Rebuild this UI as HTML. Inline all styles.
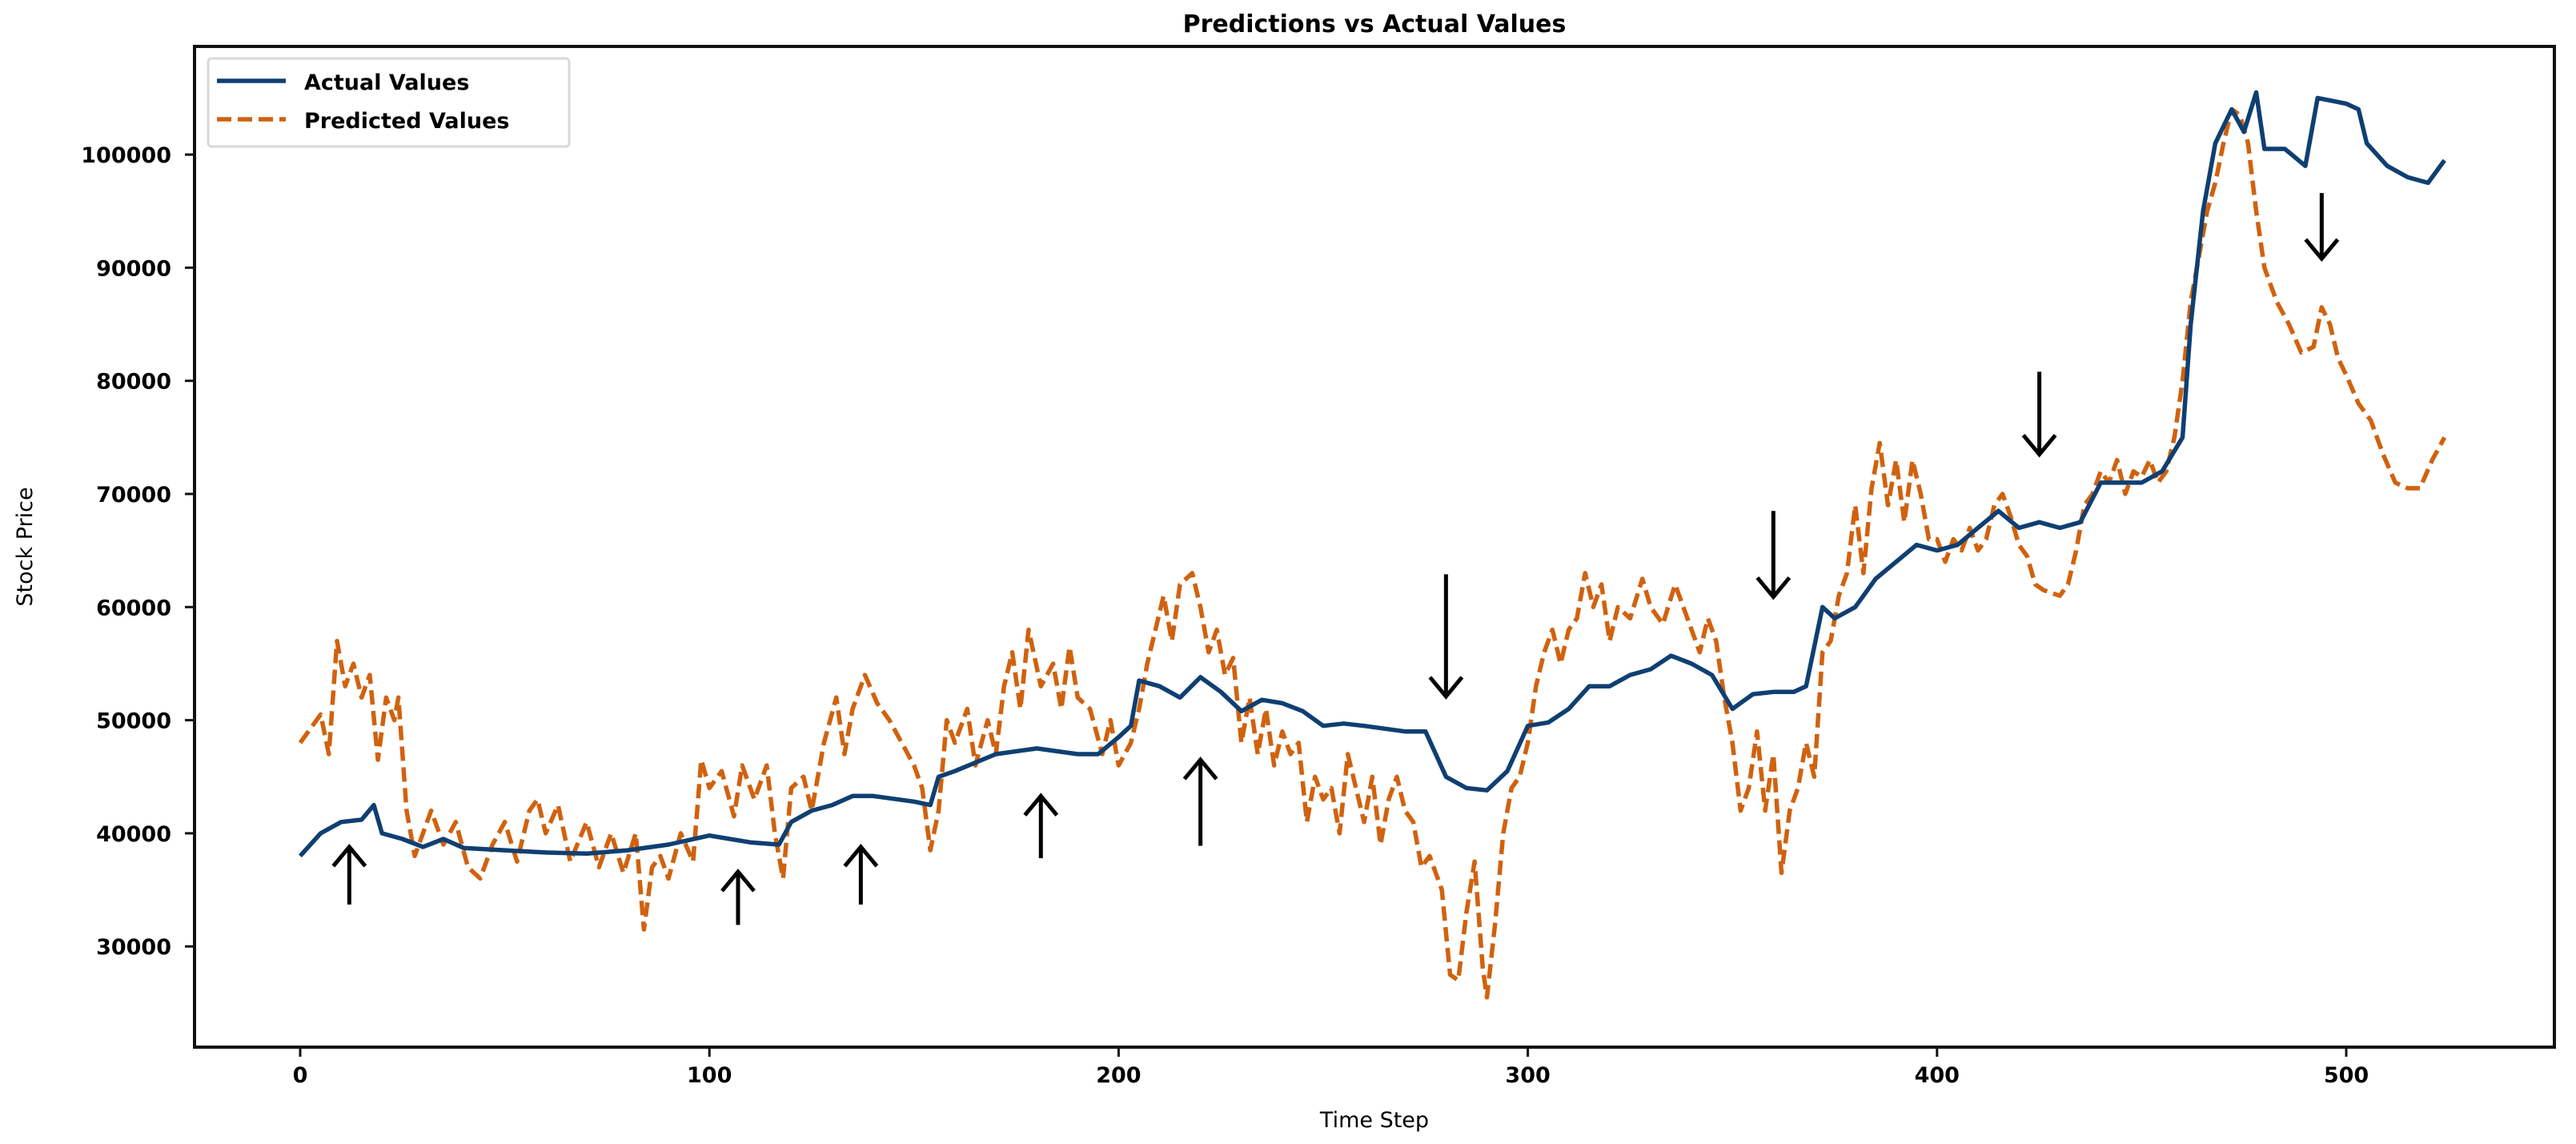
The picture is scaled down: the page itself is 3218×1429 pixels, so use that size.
<!DOCTYPE html>
<html><head><meta charset="utf-8"><style>
html,body{margin:0;padding:0;background:#fff;}
svg{display:block;font-family:"DejaVu Sans","Liberation Sans",sans-serif;}
</style></head><body>
<svg id="chart" width="3218" height="1429" viewBox="0 0 3218 1429" xmlns="http://www.w3.org/2000/svg">
<rect x="0" y="0" width="3218" height="1429" fill="#fff"/>
<text x="1717" y="40" font-size="30" font-weight="600" text-anchor="middle" fill="#000">Predictions vs Actual Values</text>
<g id="plot"></g>
<rect x="243" y="58" width="2948" height="1250" fill="none" stroke="#111" stroke-width="4"/>
<text x="1717" y="1408" font-size="27" text-anchor="middle">Time Step</text>
<text x="0" y="0" font-size="27" text-anchor="middle" transform="translate(40,683) rotate(-90)">Stock Price</text>
<g>
<rect x="260" y="73" width="451" height="110" fill="#fff" stroke="#d8d8d8" stroke-width="3" rx="4"/>
<line x1="271" y1="101" x2="357" y2="101" stroke="#0f3f72" stroke-width="5.5"/>
<text x="380" y="112" font-size="27" font-weight="600">Actual Values</text>
<line x1="271" y1="149" x2="357" y2="149" stroke="#d0620f" stroke-width="5.5" stroke-dasharray="18,8"/>
<text x="380" y="160" font-size="27" font-weight="600">Predicted Values</text>
</g>
</svg>
<script>
const actualX=[0,5,10,15,18,20,25,30,35,40,50,60,70,80,90,100,110,117,120,125,130,135,140,150,154,156,160,170,180,190,195,200,203,205,210,215,220,225,230,235,240,245,250,255,260,270,275,280,285,290,295,300,305,310,315,320,325,330,335,340,345,350,355,360,365,368,372,375,380,385,390,395,400,405,410,415,420,425,430,435,440,450,455,460,462,465,468,472,475,478,480,485,490,493,500,503,505,510,515,520,524];
const actualY=[38000,40000,41000,41200,42500,40000,39500,38800,39500,38700,38500,38300,38200,38500,39000,39800,39200,39000,41000,42000,42500,43300,43300,42800,42500,45000,45500,47000,47500,47000,47000,48500,49500,53500,53000,52000,53800,52500,50800,51800,51500,50800,49500,49700,49500,49000,49000,45000,44000,43800,45500,49500,49800,51000,53000,53000,54000,54500,55700,55000,54000,51000,52300,52500,52500,53000,60000,59000,60000,62500,64000,65500,65000,65500,67000,68500,67000,67500,67000,67500,71000,71000,72000,75000,85000,95000,101000,104000,102000,105500,100500,100500,99000,105000,104500,104000,101000,99000,98000,97500,99500];
const predX=[0,3,5,7,9,11,13,15,17,19,21,23,24,26,28,30,32,35,38,41,44,47,50,53,56,58,60,63,66,70,73,76,79,82,84,86,88,90,93,96,98,100,103,106,108,111,114,116,118,120,123,125,128,131,133,135,138,141,144,147,150,152,154,156,158,160,163,165,168,170,172,174,176,178,181,184,186,188,190,193,196,198,200,203,205,207,209,211,213,215,218,220,222,224,226,228,230,232,234,236,238,240,242,244,246,248,250,252,254,256,258,260,262,264,266,268,270,272,274,276,279,281,283,285,287,289,290,292,294,296,298,300,302,304,306,308,310,312,314,316,318,320,322,325,328,330,333,336,339,342,344,346,348,350,352,354,356,358,360,362,364,366,368,370,372,374,376,378,380,382,384,386,388,390,392,394,396,398,400,402,404,406,408,410,412,414,416,418,420,422,424,426,430,432,434,436,438,440,442,444,446,448,450,452,454,456,458,460,462,464,466,468,470,472,474,476,478,480,483,486,489,492,494,496,498,500,503,506,509,512,515,518,521,524];
const predY=[48000,49500,50500,47000,57000,53000,55000,52000,54000,46500,52000,50000,52000,42000,38000,40000,42000,39000,41000,37000,36000,39000,41000,37500,42000,43000,40000,42500,37500,41000,37000,40000,36500,40000,31500,37000,38000,36000,40000,37500,46500,44000,45500,41500,46000,43000,46000,40000,36000,44000,45000,42000,48000,52000,47000,51000,54000,51500,50000,48000,46000,44000,38500,42000,50000,48000,51000,46000,50000,47000,53000,56000,51000,58000,53000,55000,51000,56500,52000,51000,47000,50000,46000,48000,51000,55000,58000,61000,57000,62000,63000,60000,56000,58000,54000,55500,48000,52000,47000,51000,46000,49000,47000,48000,41000,45000,43000,44000,40000,47000,44000,41000,45000,39000,43000,45000,42000,41000,37000,38000,35000,27500,27000,33000,37500,28000,25500,32000,40000,44000,45000,48000,53000,56000,58000,55000,58000,59000,63000,60000,62000,57000,60000,59000,62500,60000,58500,62000,59000,56000,59000,57000,52000,48000,42000,44000,49000,42000,47000,36500,42000,44000,48000,45000,56000,57000,61000,63000,69000,63000,70500,74500,69000,73000,67500,73000,70000,66000,66000,64000,66000,65000,67000,65000,66000,69000,70000,68000,65500,64500,62000,61500,61000,62000,65000,69000,70000,72000,71000,73000,70000,72000,71500,73000,71000,72000,75000,80000,87000,91000,95000,97500,101000,104000,103500,101000,95000,90000,87000,85000,82500,83000,86500,85000,82000,80500,78000,76500,73500,71000,70500,70500,73000,75000];
const xTicks=[0,100,200,300,400,500];
const yTicks=[30000,40000,50000,60000,70000,80000,90000,100000];
const upArrowX=[12,107,137,181,220];
const upArrowTip=[38800,36600,38800,43300,46500];
const upArrowTail=[33700,31900,33700,37800,38900];
const downArrowX=[280,360,425,494];
const downArrowTail=[62900,68500,80800,96600];
const downArrowTip=[52100,60900,73500,90800];

const X0=375, XS=(2931-375)/500;
const Y70=617, YS=0.01413;
function sx(v){return X0+v*XS;}
function sy(v){return Y70-(v-70000)*YS;}
const NS='http://www.w3.org/2000/svg';
const plot=document.getElementById('plot');
function mk(tag,attrs,parent){const e=document.createElementNS(NS,tag);for(const k in attrs)e.setAttribute(k,attrs[k]);(parent||plot).appendChild(e);return e;}

xTicks.forEach(function(t){
  const l=mk('line',{x1:sx(t),x2:sx(t),y1:1308,y2:1320,stroke:'#111','stroke-width':3});
  
  
  const tx=mk('text',{x:sx(t),y:1352,'font-size':27,'font-weight':600,'text-anchor':'middle'});
  tx.textContent=String(t);
  
  
});
yTicks.forEach(function(t){
  const l=mk('line',{x1:231,x2:243,y1:sy(t),y2:sy(t),stroke:'#111','stroke-width':3});
  
  
  const tx=mk('text',{x:214,y:sy(t)+10,'font-size':27,'font-weight':600,'text-anchor':'end'});
  tx.textContent=String(t);
  
  
});

function pts(xs,ys){return xs.map(function(x,i){return sx(x).toFixed(1)+','+sy(ys[i]).toFixed(1);}).join(' ');}
const pl=mk('polyline',{points:pts(predX,predY),fill:'none',stroke:'#d0620f','stroke-width':5.5,'stroke-dasharray':'18,8','stroke-linejoin':'round'});


const al=mk('polyline',{points:pts(actualX,actualY),fill:'none',stroke:'#0f3f72','stroke-width':5.5,'stroke-linejoin':'round'});



function arrow(x,tail,tip,name){
  const g=mk('g',{stroke:'#000','stroke-width':5,fill:'none'});
  
  
  const X=sx(x), y1=sy(tail), y2=sy(tip);
  const dir=y2<y1?1:-1;
  mk('line',{x1:X,y1:y1,x2:X,y2:y2},g);
  mk('polyline',{points:(X-20)+','+(y2+dir*24)+' '+X+','+y2+' '+(X+20)+','+(y2+dir*24)},g);
}
upArrowX.forEach(function(x,i){arrow(x,upArrowTail[i],upArrowTip[i],'up-arrow');});
downArrowX.forEach(function(x,i){arrow(x,downArrowTail[i],downArrowTip[i],'down-arrow');});
</script>
</body></html>
